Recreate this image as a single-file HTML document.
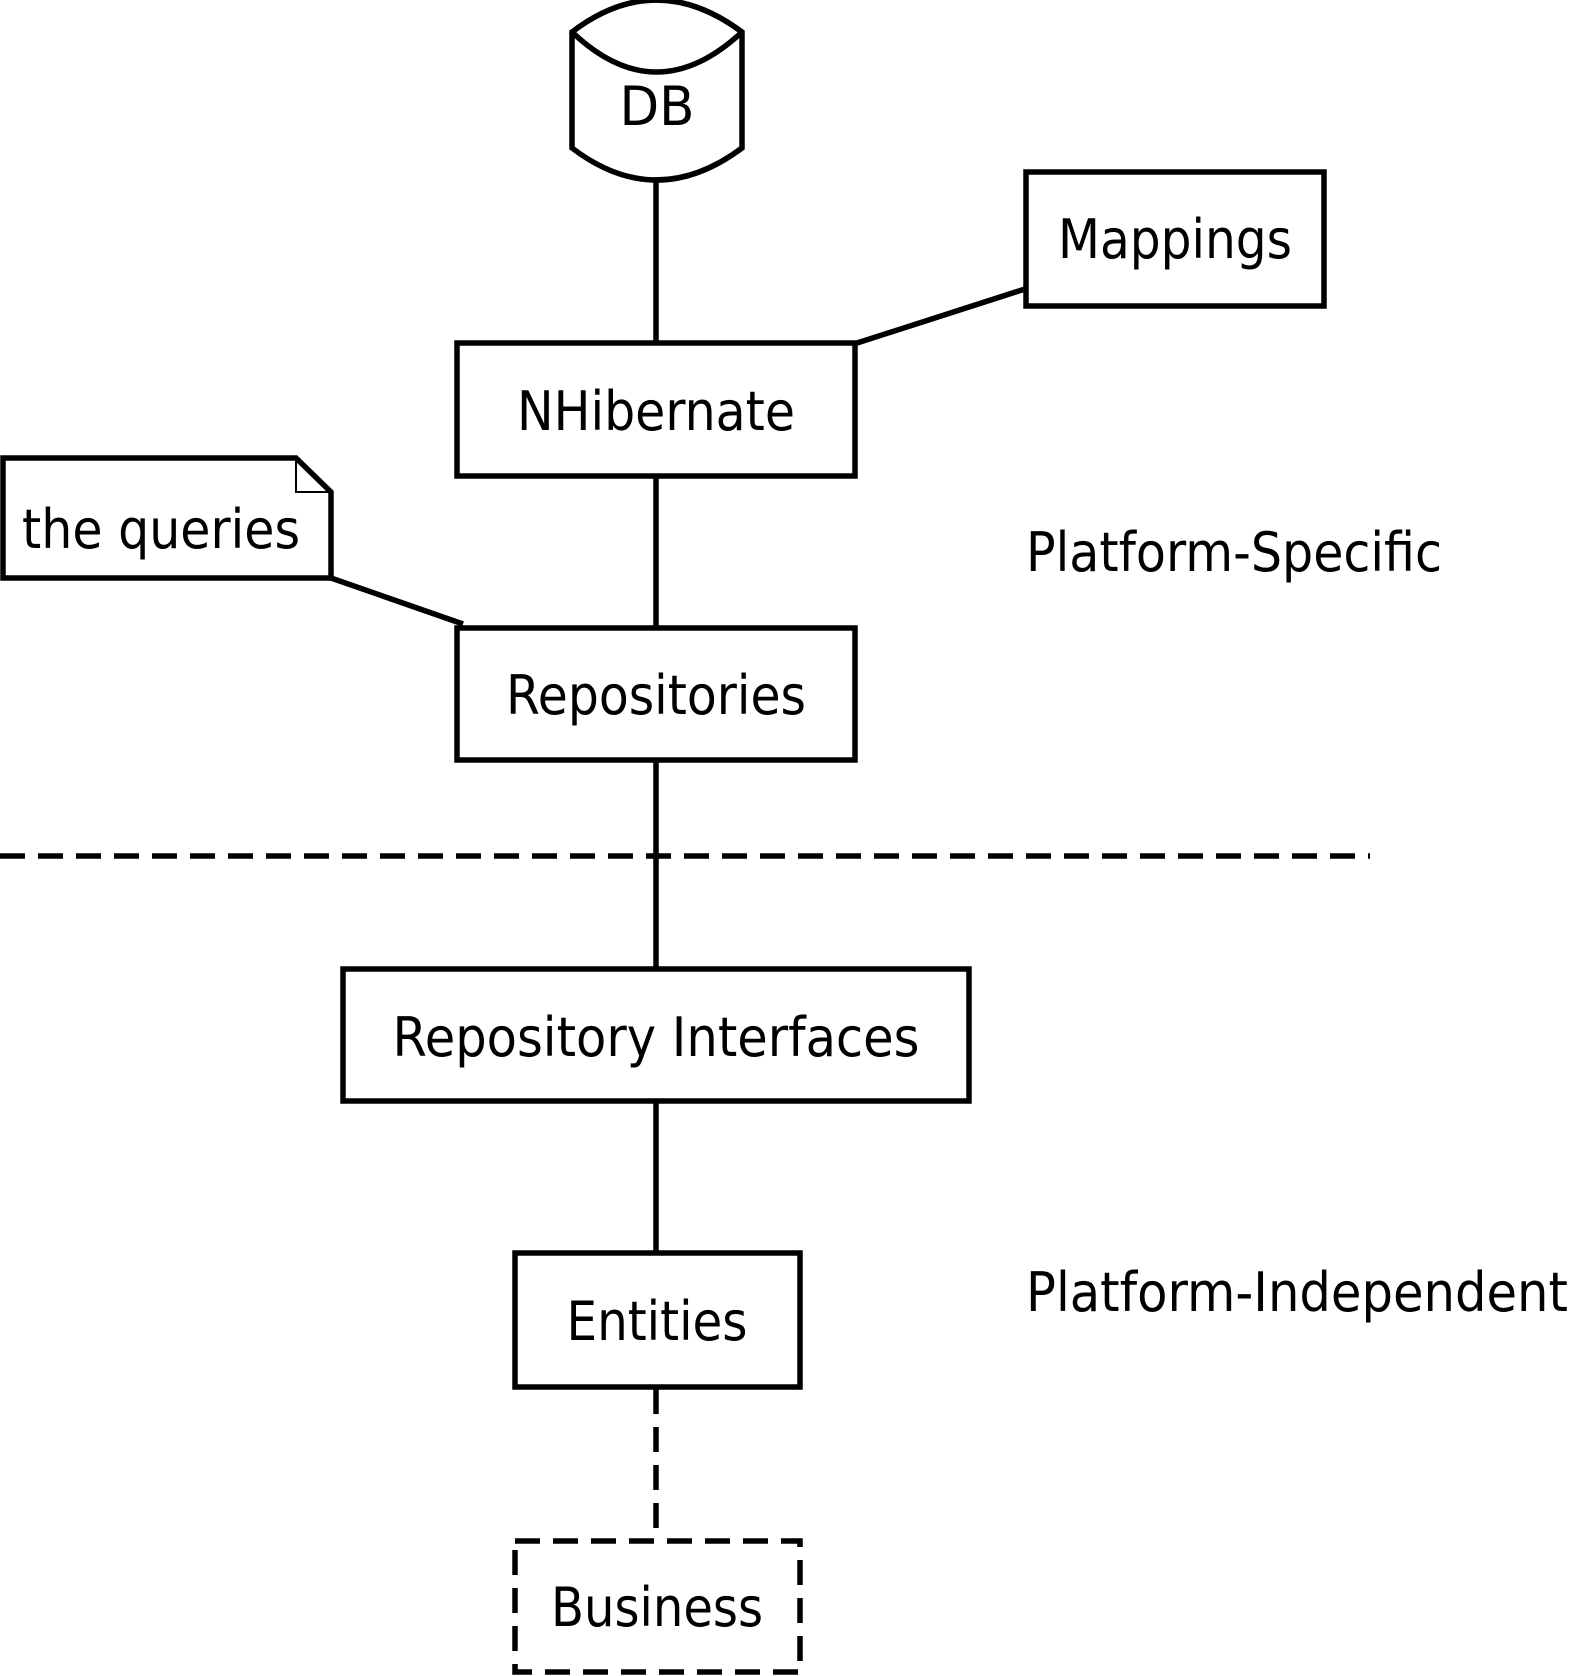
<!DOCTYPE html>
<html><head><meta charset="utf-8"><style>
html,body{margin:0;padding:0;background:#fff;width:1573px;height:1676px;overflow:hidden}
svg{display:block}
text{font-family:"DejaVu Sans","Liberation Sans",sans-serif;font-size:54px;fill:#000}
</style></head><body>
<svg width="1573" height="1676" viewBox="0 0 1573 1676" xmlns="http://www.w3.org/2000/svg">
<g fill="none" stroke="#000" stroke-width="5.5">
<line x1="656" y1="176" x2="656" y2="343"/>
<line x1="656" y1="476" x2="656" y2="627"/>
<line x1="656" y1="760" x2="656" y2="968"/>
<line x1="656" y1="1101" x2="656" y2="1252"/>
<line x1="656" y1="1389" x2="656" y2="1537" stroke-dasharray="25 13"/>
<line x1="857" y1="343" x2="1025" y2="289"/>
<line x1="331" y1="578" x2="463" y2="624"/>
<line x1="0" y1="856" x2="1370" y2="856" stroke-dasharray="25 13"/>
<path d="M572 32 Q656 -32 742 32 L742 148 Q656 212 572 148 Z" fill="#fff"/>
<path d="M572 32 Q656 112 742 32"/>
<rect x="1026" y="172" width="298" height="134" fill="#fff"/>
<rect x="457" y="343" width="398" height="133" fill="#fff"/>
<path d="M3 458 L296 458 L331 492 L331 578 L3 578 Z" fill="#fff"/>
<path d="M296 458 L296 492 L331 492" stroke-width="2"/>
<rect x="457" y="628" width="398" height="132" fill="#fff"/>
<rect x="343" y="969" width="626" height="132" fill="#fff"/>
<rect x="515" y="1253" width="285" height="134" fill="#fff"/>
<rect x="515" y="1541" width="285" height="131" fill="#fff" stroke-dasharray="25 13"/>
</g>
<text x="657" y="125" text-anchor="middle" textLength="75" lengthAdjust="spacingAndGlyphs">DB</text>
<text x="1175" y="258" text-anchor="middle" textLength="234" lengthAdjust="spacingAndGlyphs">Mappings</text>
<text x="656" y="430" text-anchor="middle" textLength="278" lengthAdjust="spacingAndGlyphs">NHibernate</text>
<text x="22" y="548" textLength="278" lengthAdjust="spacingAndGlyphs">the queries</text>
<text x="656" y="714" text-anchor="middle" textLength="300" lengthAdjust="spacingAndGlyphs">Repositories</text>
<text x="656" y="1056" text-anchor="middle" textLength="527" lengthAdjust="spacingAndGlyphs">Repository Interfaces</text>
<text x="657" y="1340" text-anchor="middle" textLength="181" lengthAdjust="spacingAndGlyphs">Entities</text>
<text x="657" y="1626" text-anchor="middle" textLength="212" lengthAdjust="spacingAndGlyphs">Business</text>
<text x="1026" y="571" textLength="416" lengthAdjust="spacingAndGlyphs">Platform-Specific</text>
<text x="1026" y="1311" textLength="542" lengthAdjust="spacingAndGlyphs">Platform-Independent</text>
</svg>
</body></html>
